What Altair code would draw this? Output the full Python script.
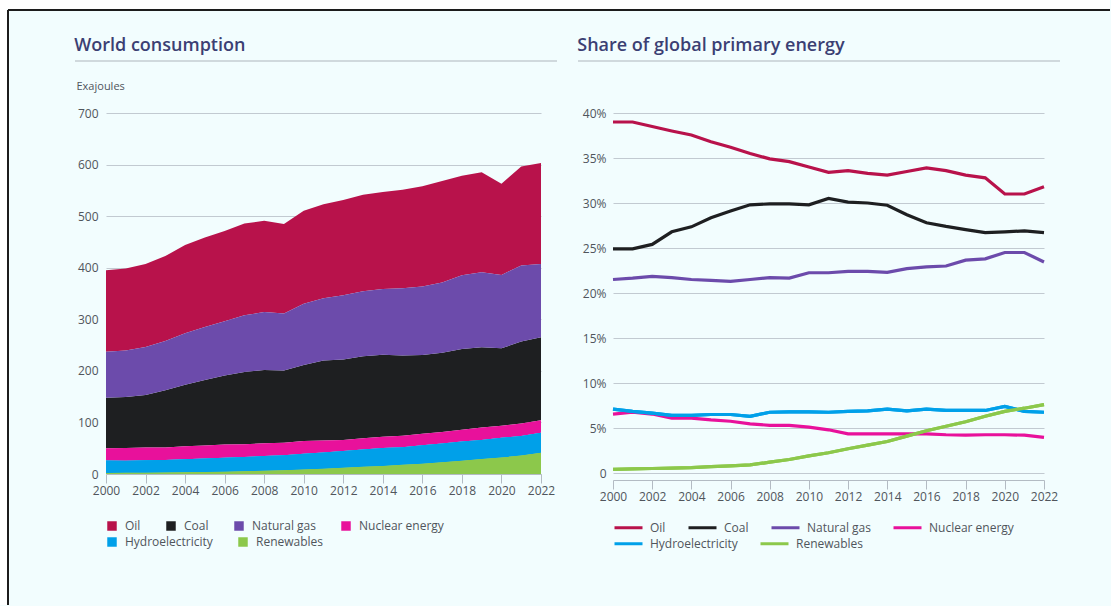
import altair as alt
import pandas as pd

# ---------------- data ----------------
years = list(range(2000, 2023))
fuels = ["Oil", "Coal", "Natural gas", "Nuclear energy", "Hydroelectricity", "Renewables"]
colors = ["#b8124b", "#1e1f21", "#6c4bab", "#e8119b", "#00a0e9", "#8cc84b"]
legend_row1 = fuels[:4]
legend_row2 = fuels[4:]

# World consumption, exajoules
oil_ej = [158.0, 159.4, 161.0, 164.5, 170.9, 173.3, 175.1, 177.9, 177.1, 173.9, 180.4, 182.0,
          184.4, 186.9, 188.1, 191.4, 194.6, 197.1, 193.0, 194.0, 176.9, 192.0, 196.0]
coal_ej = [98.0, 98.7, 101.8, 110.8, 119.3, 127.0, 133.7, 140.4, 142.1, 140.4, 147.5, 155.1,
           156.0, 159.0, 159.2, 155.6, 152.5, 153.3, 156.3, 156.0, 150.2, 159.0, 161.0]
gas_ej = [89.0, 90.2, 93.0, 95.9, 99.8, 102.7, 105.2, 109.6, 112.5, 110.2, 118.4, 121.1,
          124.8, 126.2, 127.3, 130.1, 132.8, 136.2, 143.0, 145.1, 142.4, 147.5, 142.0]
nuclear_ej = [24.0, 24.6, 24.8, 24.4, 25.2, 25.3, 25.5, 24.7, 24.4, 24.1, 24.7, 23.3,
              21.4, 21.6, 22.0, 22.2, 22.5, 22.7, 23.2, 23.9, 23.1, 23.9, 24.0]
hydro_ej = [24.0, 23.6, 24.0, 24.1, 25.4, 26.2, 27.1, 27.5, 28.7, 28.9, 30.6, 31.2,
            32.6, 33.7, 34.5, 34.3, 35.5, 35.9, 36.9, 37.2, 38.4, 37.9, 39.0]
renew_ej = [2.0, 2.2, 2.6, 2.9, 3.4, 4.0, 4.6, 5.4, 6.3, 7.4, 8.8, 10.3,
            11.9, 13.9, 15.7, 17.8, 20.1, 23.0, 25.9, 28.9, 31.9, 36.0, 41.0]

# Share of global primary energy, percent
oil_sh = [39.0, 39.0, 38.5, 38.0, 37.55, 36.8, 36.2, 35.5, 34.9, 34.6, 34.0, 33.4,
          33.6, 33.3, 33.1, 33.5, 33.9, 33.6, 33.1, 32.8, 31.0, 31.0, 31.8]
coal_sh = [24.9, 24.9, 25.4, 26.8, 27.35, 28.35, 29.1, 29.8, 29.9, 29.9, 29.8, 30.5,
           30.1, 30.0, 29.75, 28.7, 27.8, 27.4, 27.05, 26.7, 26.8, 26.9, 26.7]
gas_sh = [21.5, 21.65, 21.85, 21.7, 21.5, 21.4, 21.3, 21.5, 21.7, 21.65, 22.25, 22.25,
          22.4, 22.4, 22.3, 22.7, 22.9, 23.0, 23.65, 23.8, 24.5, 24.5, 23.45]
nuclear_sh = [6.55, 6.75, 6.55, 6.1, 6.1, 5.9, 5.75, 5.45, 5.3, 5.3, 5.1, 4.8,
              4.35, 4.35, 4.35, 4.35, 4.35, 4.25, 4.2, 4.25, 4.25, 4.2, 3.95]
hydro_sh = [7.1, 6.85, 6.65, 6.4, 6.4, 6.5, 6.5, 6.3, 6.75, 6.8, 6.8, 6.75,
            6.85, 6.9, 7.1, 6.9, 7.1, 6.95, 6.95, 6.95, 7.4, 6.85, 6.75]
renew_sh = [0.4, 0.45, 0.5, 0.55, 0.6, 0.7, 0.8, 0.9, 1.2, 1.5, 1.9, 2.25,
            2.7, 3.1, 3.5, 4.1, 4.7, 5.2, 5.7, 6.3, 6.85, 7.2, 7.6]

x_ticks = list(range(2000, 2023, 2))
stack_rank = {"Renewables": 0, "Hydroelectricity": 1, "Nuclear energy": 2,
              "Coal": 3, "Natural gas": 4, "Oil": 5}

rows_ej = []
for fuel, vals in zip(fuels, [oil_ej, coal_ej, gas_ej, nuclear_ej, hydro_ej, renew_ej]):
    for yr, v in zip(years, vals):
        rows_ej.append({"year": yr, "fuel": fuel, "fuel_b": fuel, "value": v,
                        "rank": stack_rank[fuel]})
df_ej = pd.DataFrame(rows_ej)

rows_sh = []
for fuel, vals in zip(fuels, [oil_sh, coal_sh, gas_sh, nuclear_sh, hydro_sh, renew_sh]):
    for yr, v in zip(years, vals):
        rows_sh.append({"year": yr, "fuel": fuel, "fuel_b": fuel, "share": v})
df_sh = pd.DataFrame(rows_sh)

# ---------------- styling ----------------
FONT = "Open Sans"
BG = "#f2fdfe"
TEXT = "#50555c"
GRID = "#c2cad1"
AXC = "#b3bbc3"
TITLE = "#3b3f73"
RULE = "#c5ccd2"

one = alt.Data(values=[{"k": 0}])

color_scale = alt.Scale(domain=fuels, range=colors)
color_scale_b = alt.Scale(domain=legend_row2, range=colors[4:])


def x_axis(offset=0):
    return alt.Axis(values=x_ticks, format="d", title=None, grid=False, tickSize=9,
                    tickColor=AXC, domainColor=AXC, labelFontSize=12, labelColor=TEXT,
                    labelPadding=2, labelFlush=False, offset=offset)


def legend(values, y, cols, sym, size, pad, offset):
    return alt.Legend(title=None, orient="none", legendX=0, legendY=y, values=values,
                      direction="horizontal", columns=cols, columnPadding=pad, padding=0,
                      symbolType=sym, symbolSize=size,
                      symbolStrokeWidth=(3 if sym == "stroke" else 0),
                      labelFontSize=12, labelColor=TEXT, labelOffset=offset)


# ---------------- left: stacked area ----------------
x_l = alt.X("year:Q", scale=alt.Scale(domain=[2000, 2022], nice=False, zero=False), axis=x_axis(0))
y_l = alt.Y("value:Q", stack="zero", scale=alt.Scale(domain=[0, 700], nice=False),
            axis=alt.Axis(values=list(range(0, 701, 100)), title="Exajoules", titleAngle=0,
                          titleAlign="left", titleBaseline="middle", titleX=-30, titleY=-27,
                          titleFontSize=11, titleFontWeight="normal", titleColor=TEXT,
                          labelFontSize=12, labelColor=TEXT, labelPadding=8, ticks=False,
                          domain=False, gridColor=GRID, gridWidth=1.2))

area = alt.Chart(df_ej).mark_area(opacity=1).encode(
    x=x_l, y=y_l,
    color=alt.Color("fuel:N", scale=color_scale,
                    legend=legend(legend_row1, 407, 4, "square", 90, 24, 7)),
    order=alt.Order("rank:Q", sort="ascending"),
)
# bottom two layers of the same stack, redrawn identically, carrying legend row 2
area_b = alt.Chart(df_ej).transform_filter(
    alt.FieldOneOfPredicate(field="fuel", oneOf=legend_row2)
).mark_area(opacity=1).encode(
    x=x_l, y=y_l,
    color=alt.Color("fuel_b:N", scale=color_scale_b,
                    legend=legend(legend_row2, 423, 2, "square", 90, 24, 7)),
    order=alt.Order("rank:Q", sort="ascending"),
)

underline_l = alt.Chart(one).mark_rule(color=RULE, strokeWidth=1.5).encode(
    x=alt.value(-31), x2=alt.value(451), y=alt.value(-52))

left = alt.layer(area, area_b, underline_l).resolve_scale(color="independent").properties(
    width=435, height=361,
    title=alt.Title("World consumption", anchor="start", frame="bounds", fontSize=18,
                    fontWeight=600, color=TITLE, offset=5, font=FONT),
)

# ---------------- right: share lines ----------------
x_r = alt.X("year:Q", scale=alt.Scale(domain=[2000, 2022], nice=False, zero=False), axis=x_axis(7))
y_r = alt.Y("share:Q", scale=alt.Scale(domain=[0, 40], nice=False),
            axis=alt.Axis(values=list(range(0, 41, 5)),
                          labelExpr="datum.value == 0 ? '0' : datum.value + '%'",
                          title=None, ticks=False, domain=False, gridColor=GRID, gridWidth=1.2,
                          labelFontSize=12, labelColor=TEXT, labelPadding=7))

lines = alt.Chart(df_sh).mark_line(strokeWidth=3.2).encode(
    x=x_r, y=y_r,
    color=alt.Color("fuel:N", scale=color_scale,
                    legend=legend(legend_row1, 399, 4, "stroke", 784, 16, 6)),
)
lines_b = alt.Chart(df_sh).transform_filter(
    alt.FieldOneOfPredicate(field="fuel", oneOf=legend_row2)
).mark_line(strokeWidth=3.2).encode(
    x=x_r, y=y_r,
    color=alt.Color("fuel_b:N", scale=color_scale_b,
                    legend=legend(legend_row2, 415, 2, "stroke", 784, 16, 6)),
)

underline_r = alt.Chart(one).mark_rule(color=RULE, strokeWidth=1.5).encode(
    x=alt.value(-35), x2=alt.value(447), y=alt.value(-52))

right = alt.layer(lines, lines_b, underline_r).resolve_scale(color="independent").properties(
    width=431, height=360,
    title=alt.Title("Share of global primary energy", anchor="start", frame="bounds", fontSize=18,
                    fontWeight=600, color=TITLE, offset=5, font=FONT),
)

# ---------------- page frame (decoration) ----------------
fr = alt.Chart(one)
white_top = fr.mark_rect(color="white").encode(
    x=alt.value(-33), x2=alt.value(1077), y=alt.value(-113), y2=alt.value(-104))
white_left = fr.mark_rect(color="white").encode(
    x=alt.value(-33), x2=alt.value(-26), y=alt.value(-113), y2=alt.value(492))
border_top = fr.mark_rule(color="#1c1c1c", strokeWidth=2).encode(
    x=alt.value(-25), x2=alt.value(1077), y=alt.value(-103))
border_left = fr.mark_rule(color="#1c1c1c", strokeWidth=2).encode(
    x=alt.value(-25), y=alt.value(-103), y2=alt.value(492))
frame = alt.layer(white_top, white_left, border_top, border_left).properties(width=1, height=1)

chart = alt.hconcat(frame, left, right, spacing=72, bounds="flush").resolve_scale(
    color="independent"
).resolve_legend(color="independent").properties(
    padding=0, background=BG
).configure(font=FONT).configure_view(strokeWidth=0)

chart.save("out.html", embed_options={"renderer": "svg", "actions": False})
